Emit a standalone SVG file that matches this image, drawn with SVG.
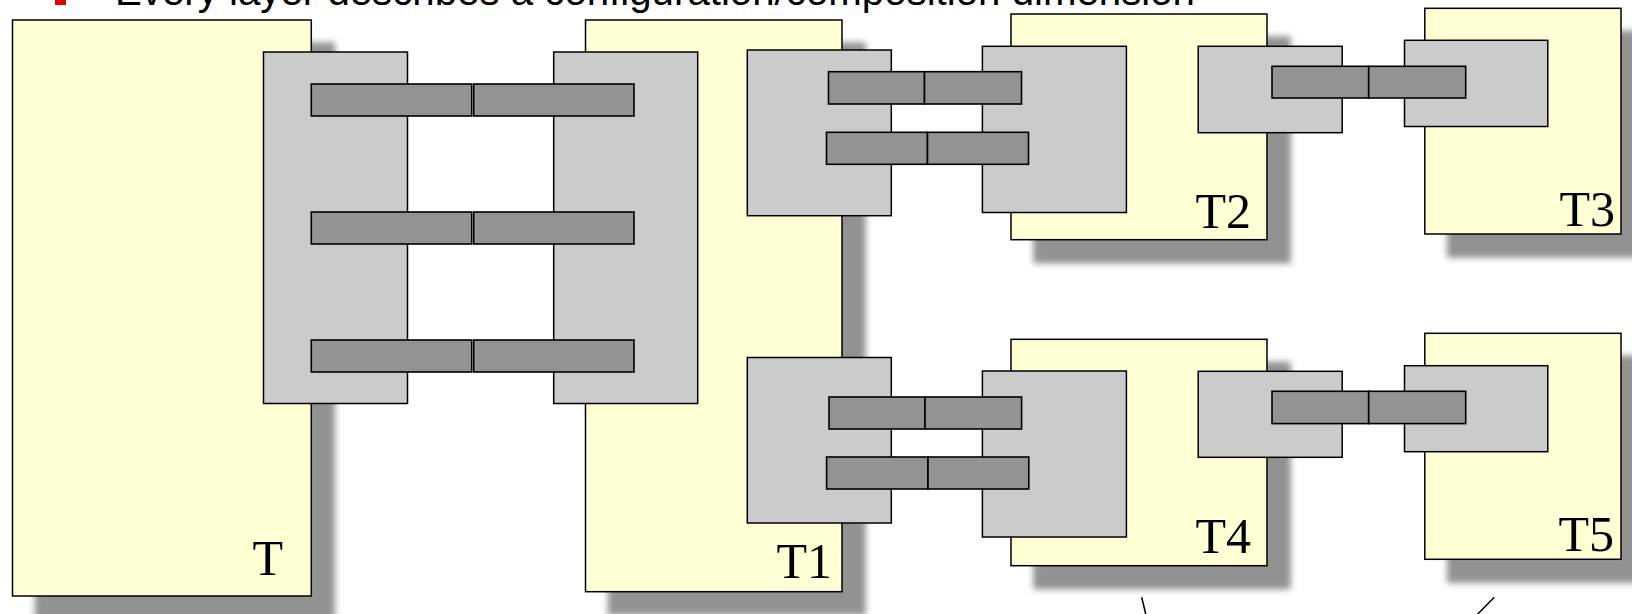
<svg xmlns="http://www.w3.org/2000/svg" width="1632" height="614" viewBox="0 0 1632 614">
<defs>
<filter id="sh" x="-0.1" y="-0.1" width="1.5" height="1.5" color-interpolation-filters="sRGB">
<feDropShadow dx="23" dy="23" stdDeviation="3" flood-color="#929292" flood-opacity="1"/>
</filter>
<style>
.box{fill:#FFFFD5;stroke:#000;stroke-width:1.5;filter:url(#sh)}
.port{fill:#CBCBCB;stroke:#000;stroke-width:1.5}
.bar{fill:#939393;stroke:#000;stroke-width:1.6}
.lbl{font-family:"Liberation Serif","Times New Roman",serif;font-size:50px;fill:#000;text-anchor:end}
.title{font-family:"Liberation Sans",Arial,sans-serif;font-size:40px;fill:#000}
.ln{stroke:#000;stroke-width:1.5;fill:none}
</style>
</defs>
<rect width="1632" height="614" fill="#fff"/>
<g id="title">
<rect x="55" y="-6" width="11" height="11" fill="#E00000"/>
<text class="title" x="115" y="4.5" textLength="1080" lengthAdjust="spacingAndGlyphs">Every layer describes a configuration/composition dimension</text>
</g>
<g id="node-T">
<rect class="box" x="12.5" y="20" width="298.8" height="576"/>
<text class="lbl" x="283" y="575">T</text>
<rect class="port" x="263.5" y="52" width="144" height="351.5"/>
</g>
<g id="node-T1">
<rect class="box" x="585.5" y="20" width="256.5" height="571.7"/>
<text class="lbl" x="832" y="578">T1</text>
<rect class="port" x="553.7" y="52" width="144" height="351.5"/>
<rect class="port" x="747.3" y="50" width="144" height="165.7"/>
<rect class="port" x="747.3" y="357.5" width="144" height="165.5"/>
</g>
<g id="node-T2">
<rect class="box" x="1011" y="14" width="256" height="225.7"/>
<text class="lbl" x="1251" y="228">T2</text>
<rect class="port" x="982.4" y="46.3" width="144" height="166.2"/>
<rect class="port" x="1198.2" y="46.3" width="144" height="86.4"/>
</g>
<g id="node-T3">
<rect class="box" x="1424.8" y="8.3" width="196.2" height="225.7"/>
<text class="lbl" x="1615" y="226">T3</text>
<rect class="port" x="1404.5" y="40.3" width="143.3" height="86.2"/>
</g>
<g id="node-T4">
<rect class="box" x="1011" y="339.3" width="256" height="226.4"/>
<text class="lbl" x="1251" y="553">T4</text>
<rect class="port" x="982.4" y="371" width="144" height="166"/>
<rect class="port" x="1198.2" y="371.3" width="144" height="86"/>
</g>
<g id="node-T5">
<rect class="box" x="1424.8" y="333.3" width="196.2" height="226"/>
<text class="lbl" x="1614" y="551">T5</text>
<rect class="port" x="1404.5" y="365.7" width="143.3" height="86"/>
</g>
<g id="connectors">
<rect class="bar" x="311.3" y="84" width="160.4" height="32"/>
<rect class="bar" x="473.7" y="84" width="160.3" height="32"/>
<rect class="bar" x="311.3" y="212" width="160.4" height="32"/>
<rect class="bar" x="473.7" y="212" width="160.3" height="32"/>
<rect class="bar" x="311.3" y="340" width="160.4" height="32"/>
<rect class="bar" x="473.7" y="340" width="160.3" height="32"/>
<rect class="bar" x="828.5" y="71.7" width="96" height="32.3"/>
<rect class="bar" x="924.5" y="71.7" width="97" height="32.3"/>
<rect class="bar" x="826.5" y="132.3" width="101" height="32"/>
<rect class="bar" x="927.5" y="132.3" width="101" height="32"/>
<rect class="bar" x="1272" y="66.3" width="96.7" height="31.7"/>
<rect class="bar" x="1368.7" y="66.3" width="97" height="31.7"/>
<rect class="bar" x="829" y="397" width="96" height="32"/>
<rect class="bar" x="925" y="397" width="96.6" height="32"/>
<rect class="bar" x="826.6" y="457" width="101.4" height="32"/>
<rect class="bar" x="928" y="457" width="100.8" height="32"/>
<rect class="bar" x="1272" y="391.3" width="96.7" height="32.3"/>
<rect class="bar" x="1368.7" y="391.3" width="97" height="32.3"/>
<line class="ln" x1="1141.7" y1="597.3" x2="1146.2" y2="616"/>
<line class="ln" x1="1494.3" y1="597.3" x2="1475.8" y2="616"/>
</g>
</svg>
